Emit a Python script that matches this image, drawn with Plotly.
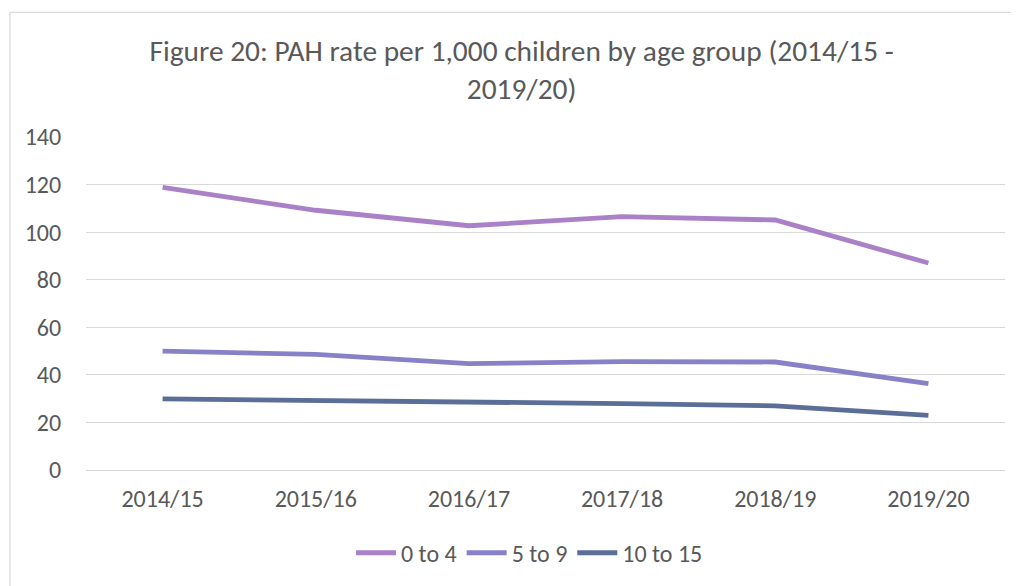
import plotly.graph_objects as go

categories = ["2014/15", "2015/16", "2016/17", "2017/18", "2018/19", "2019/20"]
age_0_4 = [118.8, 109.2, 102.7, 106.5, 105.1, 87.0]
age_5_9 = [50.0, 48.6, 44.7, 45.6, 45.4, 36.3]
age_10_15 = [29.9, 29.3, 28.9, 27.9, 27.0, 23.0]
series_names = ["0 to 4", "5 to 9", "10 to 15"]
colors = ["#AA80C6", "#8782C8", "#5A6E98"]

FONT = "Carlito, Liberation Sans, Arial, sans-serif"
TXT = "#595959"

fig = go.Figure()
for name, vals, col in zip(series_names, [age_0_4, age_5_9, age_10_15], colors):
    fig.add_trace(go.Scatter(x=categories, y=vals, name=name, mode="lines",
                             line=dict(color=col, width=4.8)))

fig.update_layout(
    width=1011, height=578,
    margin=dict(l=78, r=14, t=129, b=115),
    paper_bgcolor="white", plot_bgcolor="white",
    font=dict(family=FONT, color=TXT, size=24),
    title=dict(text="Figure 20: PAH rate per 1,000 children by age group (2014/15 -<br>2019/20)",
               x=0.508, xanchor="center", y=0.908, yanchor="middle",
               font=dict(size=29.4, color=TXT, family=FONT)),
    xaxis=dict(showgrid=False, showline=False, ticks="outside", ticklen=7,
               tickcolor="rgba(0,0,0,0)", tickfont=dict(size=24),
               range=[-0.5, 5.5]),
    yaxis=dict(range=[0, 140], dtick=20, gridcolor="#D9D9D9", gridwidth=1.3,
               zeroline=True, zerolinecolor="#D9D9D9", zerolinewidth=1.3,
               showline=False, ticks="outside", ticklen=19, tickcolor="rgba(0,0,0,0)",
               tickfont=dict(size=24)),
    legend=dict(orientation="h", x=0.4826, xanchor="center", y=-0.246, yanchor="middle",
                font=dict(size=24), itemwidth=40, tracegroupgap=0),
    shapes=[dict(type="rect", xref="paper", yref="paper",
                 x0=(2 - 78) / 919, x1=1.05, y0=-0.5, y1=(463 - 4) / 334,
                 line=dict(color="#D9D9D9", width=1.3), fillcolor="rgba(0,0,0,0)",
                 layer="below")],
)

fig.write_html("out.html")
